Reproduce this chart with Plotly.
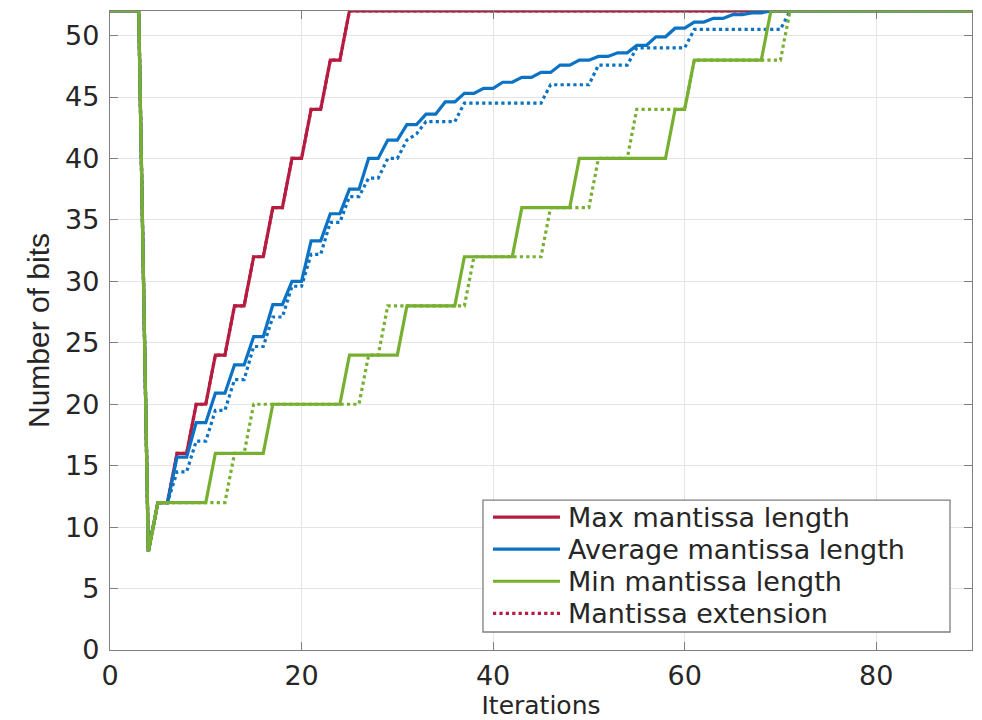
import plotly.graph_objects as go

# ---- data (iteration, number of bits) vertices ----
max_iter = [0, 3, 4, 5, 6, 7, 8, 9, 10, 11, 12, 13, 14, 15, 16, 17, 18, 19, 20, 21, 22, 23, 24, 25, 90]
max_bits = [52, 52, 8, 12, 12, 16, 16, 20, 20, 24, 24, 28, 28, 32, 32, 36, 36, 40, 40, 44, 44, 48, 48, 52, 52]

max_ext_iter = [0, 3, 4, 5, 6, 7, 8, 9, 10, 11, 12, 13, 14, 15, 16, 17, 18, 19, 20, 21, 22, 23, 24, 25, 90]
max_ext_bits = [52, 52, 8, 12, 12, 16, 16, 20, 20, 24, 24, 28, 28, 32, 32, 36, 36, 40, 40, 44, 44, 48, 48, 52, 52]

avg_iter = [0, 3, 4, 5, 6, 7, 8, 9, 10, 11, 12, 13, 14, 15, 16, 17, 18, 19, 20, 21, 22, 23, 24,
            25, 26, 27, 28, 29, 30, 31, 32, 33, 34, 35, 36, 37, 38, 39, 40, 41, 42, 43, 44, 45, 46,
            47, 48, 49, 50, 51, 52, 53, 54, 55, 56, 57, 58, 59, 60, 61, 62, 63, 64, 65, 66, 67, 68, 69, 90]
avg_bits = [52, 52, 8, 12, 12, 15.7, 15.7, 18.5, 18.5, 20.9, 20.9, 23.2, 23.2, 25.5, 25.5, 28.1, 28.1,
            30, 30, 33.3, 33.3, 35.5, 35.5, 37.5, 37.5, 40, 40, 41.5, 41.5, 42.75, 42.75, 43.6, 43.6,
            44.6, 44.6, 45.3, 45.3, 45.7, 45.7, 46.2, 46.2, 46.6, 46.6, 47.0, 47.0, 47.6, 47.6, 48.0,
            48.0, 48.3, 48.3, 48.6, 48.6, 49.2, 49.2, 49.9, 49.9, 50.6, 50.6, 51.1, 51.1, 51.4, 51.4,
            51.7, 51.7, 51.85, 51.85, 52, 52]

avg_ext_iter = [0, 3, 4, 5, 6, 7, 8, 9, 10, 11, 12, 13, 14, 15, 16, 17, 18, 19, 20, 21, 22, 23, 24,
                25, 26, 27, 28, 29, 30, 31, 32, 33, 36, 37, 45, 46, 50, 51, 54, 55, 60, 61, 70, 71, 90]
avg_ext_bits = [52, 52, 8, 12, 12, 14.5, 14.5, 17, 17, 19.5, 19.5, 22, 22, 24.7, 24.7, 27.1, 27.1,
                29.6, 29.6, 32.2, 32.2, 34.8, 34.8, 36.9, 36.9, 38.4, 38.4, 40, 40, 41.5, 42, 43, 43,
                44.5, 44.5, 46, 46, 47.6, 47.6, 49, 49, 50.5, 50.5, 52, 52]

min_iter = [0, 3, 4, 5, 10, 11, 16, 17, 24, 25, 30, 31, 36, 37, 42, 43, 48, 49, 58, 59, 60, 61, 68, 69, 90]
min_bits = [52, 52, 8, 12, 12, 16, 16, 20, 20, 24, 24, 28, 28, 32, 32, 36, 36, 40, 40, 44, 44, 48, 48, 52, 52]

min_ext_iter = [0, 3, 4, 5, 12, 13, 14, 15, 26, 27, 28, 29, 37, 38, 45, 46, 50, 51, 54, 55, 60, 61, 70, 71, 90]
min_ext_bits = [52, 52, 8, 12, 12, 16, 16, 20, 20, 24, 24, 28, 28, 32, 32, 36, 36, 40, 40, 44, 44, 48, 48, 52, 52]

x_ticks = [0, 20, 40, 60, 80]
y_ticks = [0, 5, 10, 15, 20, 25, 30, 35, 40, 45, 50]

legend_names = ["Max mantissa length", "Average mantissa length", "Min mantissa length", "Mantissa extension"]

# ---- styles ----
RED = "#B51C40"
BLUE = "#0B72C4"
GREEN = "#77B031"
AXIS = "#7f7f7f"
TXT = "#262626"
LW = 3.2

fig = go.Figure()

def add(x, y, color, dash, name):
    fig.add_trace(go.Scatter(x=x, y=y, mode="lines", name=name, showlegend=False, cliponaxis=False,
                             line=dict(color=color, width=LW, dash=dash)))

add(max_ext_iter, max_ext_bits, RED, "dot", "Max extension")
add(max_iter, max_bits, RED, "solid", legend_names[0])
add(avg_ext_iter, avg_ext_bits, BLUE, "dot", "Average extension")
add(avg_iter, avg_bits, BLUE, "solid", legend_names[1])
add(min_ext_iter, min_ext_bits, GREEN, "dot", "Min extension")
add(min_iter, min_bits, GREEN, "solid", legend_names[2])

# ---- legend box drawn in paper coordinates (MATLAB-style) ----
legend_colors = [RED, BLUE, GREEN, RED]
legend_dashes = ["solid", "solid", "solid", "dot"]
box = dict(x0=0.4327, x1=0.9745, y0=0.0282, y1=0.2347)
row_top, row_step = 0.208, 0.0502
sym_x0, sym_x1, text_x = 0.4443, 0.522, 0.5298

shapes = [dict(type="rect", xref="paper", yref="paper", **box,
               fillcolor="white", line=dict(color=AXIS, width=1.3), layer="above")]
annotations = []
for i, (nm, col, ds) in enumerate(zip(legend_names, legend_colors, legend_dashes)):
    yy = row_top - i * row_step
    shapes.append(dict(type="line", xref="paper", yref="paper", x0=sym_x0, x1=sym_x1, y0=yy, y1=yy,
                       line=dict(color=col, width=LW, dash=ds), layer="above"))
    annotations.append(dict(xref="paper", yref="paper", x=text_x, y=yy, text=nm, showarrow=False,
                            xanchor="left", yanchor="middle", borderpad=0,
                            font=dict(family="DejaVu Sans", size=27, color=TXT)))

axis_common = dict(
    showline=True, linecolor=AXIS, linewidth=1.3, mirror="ticks",
    ticks="inside", ticklen=8, tickwidth=1.3, tickcolor=AXIS,
    showgrid=True, gridcolor="#e4e4e4", gridwidth=1, zeroline=False, automargin=False,
    tickfont=dict(family="DejaVu Sans", size=27, color=TXT),
)

fig.update_layout(
    width=974, height=712,
    margin=dict(l=102, r=10, t=3, b=70),
    paper_bgcolor="white", plot_bgcolor="white",
    xaxis=dict(range=[0, 90], tickvals=x_ticks, ticktext=[str(v) for v in x_ticks], ticklabelstandoff=1,
               title=dict(text="Iterations", font=dict(family="DejaVu Sans", size=25, color=TXT), standoff=3),
               **axis_common),
    yaxis=dict(range=[0, 52], tickvals=y_ticks, ticktext=[str(v) for v in y_ticks], ticklabelstandoff=4,
               title=dict(text="Number of bits", font=dict(family="Liberation Sans", size=30, color=TXT), standoff=6),
               **axis_common),
    shapes=shapes, annotations=annotations, showlegend=False,
)

fig.write_html("out.html")
